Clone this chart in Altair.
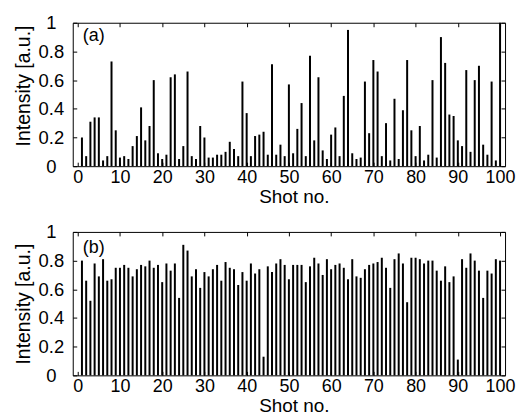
import altair as alt
import pandas as pd

shots = list(range(1, 101))

intensity_a = [
    0.20, 0.07, 0.31, 0.34, 0.34, 0.04, 0.07, 0.73, 0.25, 0.06,
    0.07, 0.05, 0.14, 0.21, 0.41, 0.18, 0.28, 0.60, 0.09, 0.05,
    0.08, 0.62, 0.64, 0.05, 0.14, 0.66, 0.07, 0.05, 0.28, 0.20,
    0.06, 0.06, 0.08, 0.08, 0.10, 0.17, 0.12, 0.07, 0.59, 0.37,
    0.07, 0.21, 0.22, 0.24, 0.08, 0.71, 0.08, 0.15, 0.07, 0.57,
    0.09, 0.26, 0.44, 0.07, 0.77, 0.18, 0.62, 0.11, 0.05, 0.22,
    0.27, 0.07, 0.49, 0.95, 0.09, 0.05, 0.06, 0.59, 0.23, 0.74,
    0.66, 0.07, 0.30, 0.04, 0.47, 0.05, 0.39, 0.74, 0.25, 0.07,
    0.28, 0.04, 0.08, 0.60, 0.06, 0.90, 0.72, 0.36, 0.35, 0.18,
    0.14, 0.67, 0.10, 0.60, 0.70, 0.15, 0.08, 0.59, 0.04, 1.00,
]

intensity_b = [
    0.80, 0.66, 0.52, 0.78, 0.69, 0.81, 0.66, 0.67, 0.75, 0.75,
    0.77, 0.75, 0.69, 0.74, 0.77, 0.76, 0.80, 0.75, 0.77, 0.65,
    0.78, 0.73, 0.78, 0.54, 0.91, 0.87, 0.69, 0.74, 0.61, 0.72,
    0.69, 0.74, 0.77, 0.66, 0.79, 0.75, 0.74, 0.63, 0.72, 0.66,
    0.78, 0.71, 0.74, 0.13, 0.76, 0.72, 0.78, 0.81, 0.77, 0.67,
    0.77, 0.77, 0.77, 0.65, 0.76, 0.82, 0.78, 0.70, 0.81, 0.74,
    0.77, 0.78, 0.75, 0.67, 0.81, 0.69, 0.68, 0.74, 0.77, 0.78,
    0.79, 0.82, 0.75, 0.61, 0.81, 0.85, 0.78, 0.51, 0.82, 0.82,
    0.81, 0.78, 0.80, 0.80, 0.73, 0.66, 0.76, 0.65, 0.69, 0.11,
    0.81, 0.75, 0.85, 0.80, 0.73, 0.54, 0.73, 0.71, 0.81, 0.80,
]

x_ticks = [0, 10, 20, 30, 40, 50, 60, 70, 80, 90, 100]
y_ticks = [0, 0.2, 0.4, 0.6, 0.8, 1]
panel_labels = ["(a)", "(b)"]
label_pos = [(1.2, 0.91), (1.2, 0.89)]
title_y = [63, 72]

FONT = "Liberation Sans"
W, H = 434, 144

xs = alt.Scale(domain=[0, 100], nice=False, zero=False)
ys = alt.Scale(domain=[0, 1], nice=False)


def panel(values, label, lpos, ty):
    df = pd.DataFrame({"shot": shots, "intensity": values})
    bottom_axis = alt.Axis(
        orient="bottom", values=x_ticks, format="d", tickSize=4, offset=-4,
        domain=False, labelPadding=2.5, labelFontSize=18, labelFont=FONT,
        labelColor="black", tickColor="black", labelFlush=False,
        labelOverlap=False, grid=False,
        title="Shot no.", titleFont=FONT, titleFontSize=19,
        titleFontWeight="normal", titleColor="black", titleX=222, titleY=25,
        titleBaseline="top", titleAlign="center",
    )
    left_axis = alt.Axis(
        orient="left", values=y_ticks, format="~g", tickSize=4, offset=-4,
        domain=False, labelPadding=22, labelAlign="center",
        labelBaseline="middle", labelFontSize=18.5, labelFont=FONT,
        labelColor="black", tickColor="black", labelFlush=False,
        labelOverlap=False, grid=False,
        title="Intensity [a.u.]", titleFont=FONT, titleFontSize=19.5,
        titleFontWeight="normal", titleColor="black", titleX=-53, titleY=ty,
        titleBaseline="middle", titleAlign="center", titleAngle=270,
    )
    top_axis = alt.Axis(
        orient="top", values=x_ticks, tickSize=4, offset=-4, domain=False,
        labels=False, title=None, tickColor="black", grid=False,
    )
    right_axis = alt.Axis(
        orient="right", values=y_ticks, tickSize=4, offset=-4, domain=False,
        labels=False, title=None, tickColor="black", grid=False,
    )
    bars = alt.Chart(df).mark_bar(size=2, color="black").encode(
        x=alt.X("shot:Q", scale=xs, axis=bottom_axis),
        y=alt.Y("intensity:Q", scale=ys, axis=left_axis),
    )
    ghost = alt.Chart(df).mark_bar(size=2, opacity=0).encode(
        x=alt.X("shot:Q", scale=xs, axis=top_axis),
        y=alt.Y("intensity:Q", scale=ys, axis=right_axis),
    )
    tdf = pd.DataFrame({"label": [label], "x": [lpos[0]], "y": [lpos[1]]})
    text = alt.Chart(tdf).mark_text(
        align="left", baseline="middle", fontSize=18, font=FONT, color="black"
    ).encode(
        x=alt.X("x:Q", scale=xs, axis=None),
        y=alt.Y("y:Q", scale=ys, axis=None),
        text="label:N",
    )
    return alt.layer(bars, ghost, text).resolve_axis(
        x="independent", y="independent"
    ).properties(width=W, height=H)


chart = alt.vconcat(
    panel(intensity_a, panel_labels[0], label_pos[0], title_y[0]),
    panel(intensity_b, panel_labels[1], label_pos[1], title_y[1]),
    spacing=15,
).properties(
    padding={"left": 5, "top": 4, "right": 0, "bottom": 0},
    background="white",
).configure_view(stroke="black", strokeWidth=1)

chart.save("out.html", embed_options={"renderer": "svg", "actions": False})
